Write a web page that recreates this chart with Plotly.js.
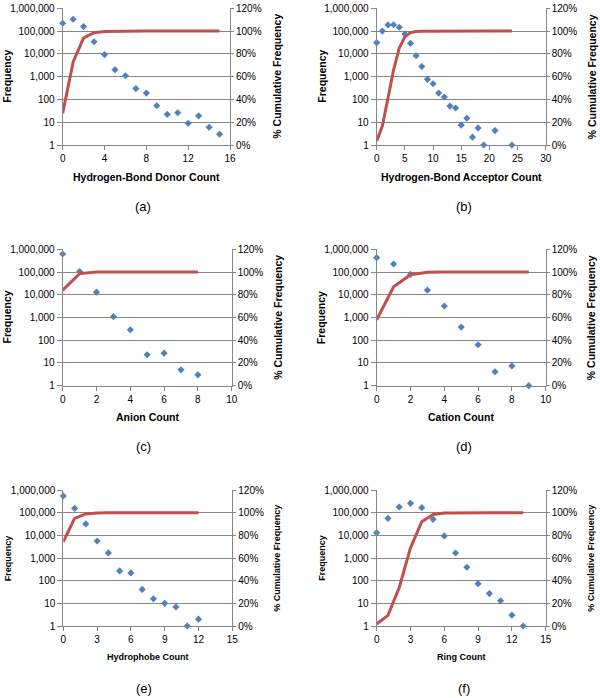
<!DOCTYPE html>
<html><head><meta charset="utf-8">
<script src="https://cdn.plot.ly/plotly-3.0.1.min.js"></script>
<style>html,body{margin:0;padding:0;background:#fff}</style>
</head><body><div id="chart" style="width:600px;height:698px"></div>
<script>
// ---------- Data ----------
const freqTickVals = [1, 10, 100, 1000, 10000, 100000, 1000000];
const freqTickText = ['1', '10', '100', '1,000', '10,000', '100,000', '1,000,000'];
const cumTickVals = [0, 20, 40, 60, 80, 100, 120];
const cumTickText = ['0%', '20%', '40%', '60%', '80%', '100%', '120%'];

// (a) Hydrogen-Bond Donor Count
const donorCount = [0,1,2,3,4,5,6,7,8,9,10,11,12,13,14,15];
const donorFreq  = [220000,330000,158000,34000,9300,2000,1100,300,190,53,22,26,9,19,6,3];
const donorCum   = [28,73,94,98.6,99.7,99.9,100,100,100,100,100,100,100,100,100,100];

// (b) Hydrogen-Bond Acceptor Count
const acceptorCount = [0,1,2,3,4,5,6,7,8,9,10,11,12,13,14,15,16,17,18,19,21,24];
const acceptorFreq  = [31000,100000,186000,190000,147000,75000,29000,8300,2800,760,490,190,128,51,42,7.5,15,2.2,5.6,1,4.3,1];
const acceptorCumCount = [0,1,2,3,4,5,6,7,8,9,10,11,12,13,14,15,16,17,18,19,20,21,22,23,24];
const acceptorCum   = [3.5,16.7,41,66,85,95,98.7,99.7,99.95,100,100,100,100,100,100,100,100,100,100,100,100,100,100,100,100];

// (c) Anion Count
const anionCount = [0,1,2,3,4,5,6,7,8];
const anionFreq  = [620000,105000,13000,1090,290,23,27,5,3];
const anionCum   = [84,98.6,100,100,100,100,100,100,100];

// (d) Cation Count
const cationCount = [0,1,2,3,4,5,6,7,8,9];
const cationFreq  = [430000,225000,79000,16000,3200,380,63,4.1,7.4,1];
const cationCum   = [58,87,97.6,99.7,100,100,100,100,100,100];

// (e) Hydrophobe Count
const hydrophobeCount = [0,1,2,3,4,5,6,7,8,9,10,11,12];
const hydrophobeFreq  = [550000,155000,32000,5600,1670,270,220,41,16,10,6.9,1,2];
const hydrophobeCum   = [74.3,95,98.9,99.8,100,100,100,100,100,100,100,100,100];

// (f) Ring Count
const ringCount = [0,1,2,3,4,5,6,7,8,9,10,11,12,13];
const ringFreq  = [13000,56000,178000,258000,166000,51000,9400,1660,390,74,27,13,3,1];
const ringCum   = [1.8,9.4,34,69,92,98.4,99.7,99.9,100,100,100,100,100,100];

// ---------- Panels ----------
const W = 600, H = 698;
const panels = [
  {label:'(a)', title:'Hydrogen-Bond Donor Count', x:donorCount, f:donorFreq, cx:donorCount, c:donorCum,
   xr:[0,16], dx:4, box:[62.7,230,8.3,145], xt:177, lt:7, rt:277, lab:[143,207], fs:10.5},
  {label:'(b)', title:'Hydrogen-Bond Acceptor Count', x:acceptorCount, f:acceptorFreq, cx:acceptorCumCount, c:acceptorCum,
   xr:[0,30], dx:5, box:[376.7,545.7,8.3,145], xt:177, lt:322, rt:591.7, lab:[464,207], fs:10.5},
  {label:'(c)', title:'Anion Count', x:anionCount, f:anionFreq, cx:anionCount, c:anionCum,
   xr:[0,10], dx:2, box:[62.7,231.7,249.3,385.7], xt:416.7, lt:7, rt:278.3, lab:[143,446.7], fs:10.5},
  {label:'(d)', title:'Cation Count', x:cationCount, f:cationFreq, cx:cationCount, c:cationCum,
   xr:[0,10], dx:2, box:[376.7,545.7,249.3,385.7], xt:417.3, lt:321.7, rt:591.7, lab:[464.3,446.7], fs:10.5},
  {label:'(e)', title:'Hydrophobe Count', x:hydrophobeCount, f:hydrophobeFreq, cx:hydrophobeCount, c:hydrophobeCum,
   xr:[0,15], dx:3, box:[63.3,232.3,490,626], xt:657.3, lt:8.3, rt:276.7, lab:[144,688.3], fs:9},
  {label:'(f)', title:'Ring Count', x:ringCount, f:ringFreq, cx:ringCount, c:ringCum,
   xr:[0,15], dx:3, box:[376.7,545.7,490,626], xt:657.3, lt:321.7, rt:590.7, lab:[464.3,688.3], fs:9}
];

const FONT = 'Liberation Sans, Arial, sans-serif';
const AX = '#868686';
const data = [];
const layout = {
  width: W, height: H, margin: {l:0, r:0, t:0, b:0},
  paper_bgcolor: '#fff', plot_bgcolor: '#fff', showlegend: false,
  font: {family: FONT, size: 10, color: '#000'},
  annotations: []
};

panels.forEach((p, i) => {
  const n = i + 1, m = i + 7;
  const xs = n === 1 ? '' : n;
  const [x0, x1, y0, y1] = p.box;
  const xdom = [x0 / W, x1 / W];
  const ydom = [1 - y1 / H, 1 - y0 / H];
  data.push({
    type: 'scatter', mode: 'markers', x: p.x, y: p.f,
    xaxis: 'x' + xs, yaxis: 'y' + xs,
    marker: {symbol: 'diamond', size: 5.5, color: '#4F81BD'},
    cliponaxis: false
  });
  data.push({
    type: 'scatter', mode: 'lines', x: p.cx, y: p.c,
    xaxis: 'x' + xs, yaxis: 'y' + m,
    line: {color: '#C0504D', width: 3}
  });
  layout['xaxis' + xs] = {
    domain: xdom, anchor: 'y' + xs, range: p.xr, dtick: p.dx, tick0: 0,
    showgrid: false, zeroline: false, showline: true, linecolor: AX, linewidth: 1,
    ticks: 'outside', ticklen: 4, tickcolor: AX,
    tickfont: {family: FONT, size: 10, color: '#000'}, fixedrange: true
  };
  layout['yaxis' + xs] = {
    domain: ydom, anchor: 'x' + xs, type: 'log', range: [0, 6],
    tickvals: freqTickVals, ticktext: freqTickText,
    showgrid: true, gridcolor: AX, gridwidth: 1, zeroline: false,
    showline: true, linecolor: AX, linewidth: 1,
    ticks: 'outside', ticklen: 5, tickcolor: AX,
    tickfont: {family: FONT, size: 10, color: '#000'}, fixedrange: true
  };
  layout['yaxis' + m] = {
    overlaying: 'y' + xs, anchor: 'x' + xs, side: 'right', range: [0, 120],
    tickvals: cumTickVals, ticktext: cumTickText,
    showgrid: false, zeroline: false, showline: true, linecolor: AX, linewidth: 1,
    ticks: 'outside', ticklen: 3, tickcolor: AX,
    tickfont: {family: FONT, size: 10, color: '#000'}, fixedrange: true
  };
  const yc = (y0 + y1) / 2;
  const bold = {family: FONT, size: p.fs, color: '#000', weight: 'bold'};
  layout.annotations.push(
    {text: '<b>' + p.title + '</b>', xref: 'paper', yref: 'paper', x: ((x0 + x1) / 2) / W, y: 1 - p.xt / H,
     xanchor: 'center', yanchor: 'middle', showarrow: false, font: bold},
    {text: '<b>Frequency</b>', xref: 'paper', yref: 'paper', x: p.lt / W, y: 1 - yc / H,
     xanchor: 'center', yanchor: 'middle', showarrow: false, textangle: -90, font: bold},
    {text: '<b>% Cumulative Frequency</b>', xref: 'paper', yref: 'paper', x: p.rt / W, y: 1 - yc / H,
     xanchor: 'center', yanchor: 'middle', showarrow: false, textangle: -90, font: bold},
    {text: p.label, xref: 'paper', yref: 'paper', x: p.lab[0] / W, y: 1 - p.lab[1] / H,
     xanchor: 'center', yanchor: 'middle', showarrow: false, font: {family: FONT, size: 13, color: '#000'}}
  );
});

Plotly.newPlot('chart', data, layout, {displayModeBar: false, staticPlot: true});
</script></body></html>
